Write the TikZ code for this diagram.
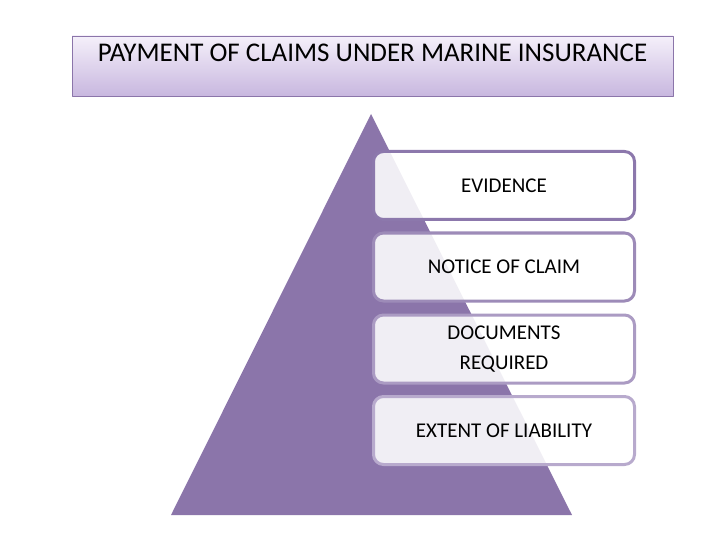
\documentclass[tikz,border=0pt]{standalone}
\usepackage{fontspec}
\setmainfont{Carlito}
\definecolor{timnhat}{HTML}{8B75AA}
\definecolor{dautieude}{HTML}{F5F0FA}
\definecolor{cuoitieude}{HTML}{C8B7DF}
\definecolor{vien1}{HTML}{8C78AC}
\definecolor{vien2}{HTML}{9D8BB8}
\definecolor{vien3}{HTML}{AB9BC3}
\definecolor{vien4}{HTML}{B8AACD}
\tikzset{
  khungtieude/.style={draw=timnhat,line width=0.8pt,top color=dautieude,bottom color=cuoitieude,
    minimum width=601,minimum height=60,inner sep=0pt},
  hop/.style={rounded corners=10pt,line width=3pt,fill=white,fill opacity=0.88,text opacity=1,
    minimum width=261,minimum height=68,align=center,inner sep=0pt}
}
\begin{document}
\begin{tikzpicture}[x=1pt,y=-1pt,line join=round,font=\fontsize{21}{30}\selectfont]
  \useasboundingbox (0,0) rectangle (720,540);
  % Tiêu đề
  \node[khungtieude] (khung) at (372.5,66) {};
  \node[font=\fontsize{27}{30}\selectfont] (tieude) at (372.5,53) {PAYMENT OF CLAIMS UNDER MARINE INSURANCE};
  % Kim tự tháp
  \path
  (371,114) coordinate (A)
  (171,515) coordinate (B)
  (572,515) coordinate (C);
  \fill[timnhat] (A) -- (B) -- (C) -- cycle;
  % Các hộp
  \foreach \ten/\y/\mau/\nhan in {h1/185.5/vien1/{EVIDENCE},h2/267/vien2/{NOTICE OF CLAIM},
    h3/349/vien3/{DOCUMENTS\\REQUIRED},h4/430.5/vien4/{EXTENT OF LIABILITY}}{
    \node[hop,draw=\mau] (\ten) at (504,\y) {\nhan};
  }
\end{tikzpicture}
\end{document}
